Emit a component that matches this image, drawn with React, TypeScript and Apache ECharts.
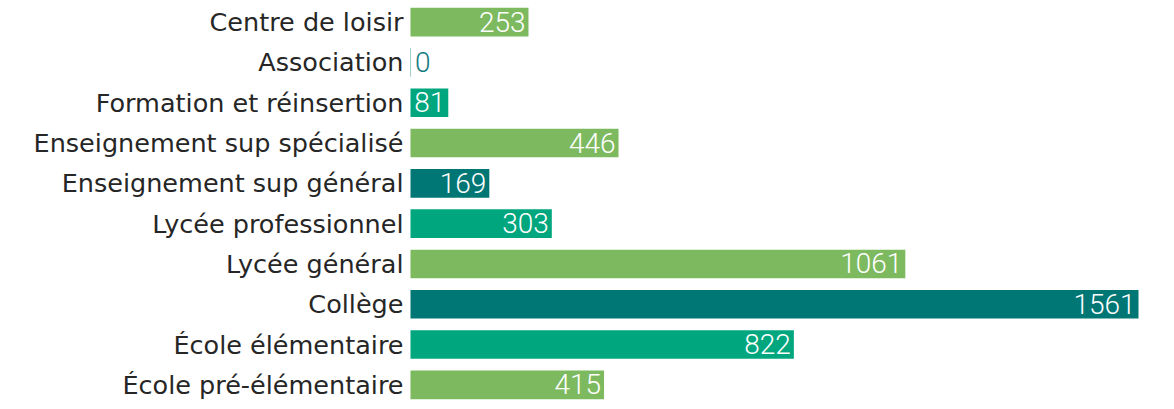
import React, { useEffect, useRef } from "react";
import * as echarts from "echarts";

const categories = [
  "École pré-élémentaire",
  "École élémentaire",
  "Collège",
  "Lycée général",
  "Lycée professionnel",
  "Enseignement sup général",
  "Enseignement sup spécialisé",
  "Formation et réinsertion",
  "Association",
  "Centre de loisir",
];
const values = [415, 822, 1561, 1061, 303, 169, 446, 81, 0, 253];
const palette = ["#7dba5f", "#00a67e", "#007675"];

export default function App() {
  const ref = useRef<HTMLDivElement>(null);
  useEffect(() => {
    if (!ref.current) return;
    const chart = echarts.init(ref.current, undefined, { renderer: "svg" });
    chart.setOption({
      animation: false,
      grid: { left: 410.5, right: 35.5, top: 2, bottom: 4, containLabel: false },
      xAxis: {
        type: "value",
        min: 0,
        max: 1561,
        show: false,
      },
      yAxis: {
        type: "category",
        data: categories,
        axisLine: { show: false },
        axisTick: { show: false },
        axisLabel: {
          color: "#262626",
          fontSize: 25.5,
          fontFamily: "'DejaVu Sans', sans-serif",
          margin: 7,
          padding: [5, 0, 0, 0],
        },
      },
      series: [
        {
          type: "bar",
          barWidth: "71%",
          data: values.map((v, i) => ({
            value: v,
            itemStyle:
              v === 0
                ? {
                    color: palette[i % 3],
                    borderColor: "rgba(0,118,117,0.2)",
                    borderWidth: 1,
                  }
                : { color: palette[i % 3] },
            label:
              v === 0
                ? { position: "right", distance: 4, color: "#127a80" }
                : undefined,
          })),
          label: {
            show: true,
            position: "insideRight",
            distance: 3,
            color: "#ffffff",
            fontSize: 28,
            fontWeight: 300,
            fontFamily: "Roboto, sans-serif",
          },
        },
      ],
    });
    return () => chart.dispose();
  }, []);
  return (
    <div
      ref={ref}
      style={{ position: "absolute", left: 0, top: 0, width: 1174, height: 409 }}
    />
  );
}
